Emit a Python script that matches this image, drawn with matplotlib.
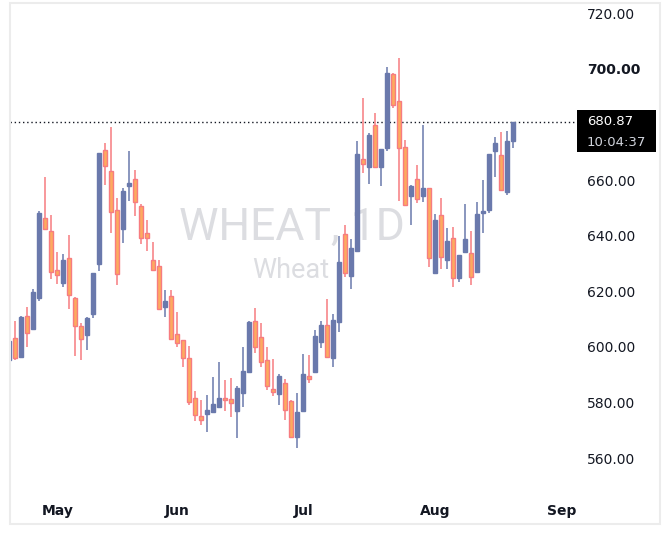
import matplotlib.pyplot as plt
from matplotlib.patches import Rectangle
import matplotlib.transforms as mtransforms

# daily candles, WHEAT 1D
opens = [595.3, 603.1, 596.5, 611.1, 606.6, 617.7, 646.2, 641.6, 627.5, 623.0,
         631.8, 617.4, 607.4, 604.4, 611.9, 629.9, 670.8, 663.3, 649.3, 642.4,
         657.8, 660.4, 650.8, 641.1, 631.4, 629.0, 614.4, 618.2, 604.6, 602.4,
         596.0, 581.6, 575.2, 575.7, 576.5, 578.2, 581.6, 581.2, 576.8, 583.3,
         591.1, 609.3, 603.5, 595.2, 584.8, 582.9, 587.0, 580.6, 567.5, 577.1,
         589.6, 590.8, 601.9, 607.9, 595.9, 608.8, 640.5, 625.6, 634.5, 667.6,
         664.6, 679.9, 664.6, 671.4, 698.1, 688.4, 671.9, 654.2, 660.4, 654.2,
         657.3, 626.6, 647.3, 631.3, 639.0, 624.6, 634.2, 633.6, 627.0, 648.2,
         649.1, 670.4, 669.0, 655.7, 674.0]
highs = [602.5, 609.3, 611.1, 614.4, 620.8, 648.8, 661.0, 647.3, 634.1, 633.3,
         640.1, 618.0, 608.6, 610.8, 626.5, 669.6, 673.5, 679.0, 653.6, 657.0,
         670.6, 663.6, 651.5, 645.5, 637.6, 631.2, 620.4, 620.4, 612.5, 602.4,
         600.4, 584.0, 581.0, 582.7, 589.1, 594.6, 588.2, 588.9, 586.0, 600.1,
         609.3, 614.0, 608.7, 600.0, 595.7, 590.3, 588.5, 581.0, 583.4, 597.5,
         597.1, 606.1, 609.4, 617.1, 611.8, 640.0, 643.8, 638.7, 674.2, 689.5,
         676.8, 684.0, 671.0, 700.8, 698.5, 704.0, 674.4, 658.1, 665.5, 679.9,
         657.3, 647.7, 653.4, 642.8, 643.1, 633.0, 651.5, 641.6, 652.1, 660.2,
         669.5, 675.4, 677.2, 677.8, 680.87]
lows = [595.0, 595.3, 596.4, 600.1, 606.6, 616.6, 641.9, 624.5, 622.7, 621.6,
        613.7, 596.8, 595.1, 598.9, 610.5, 627.3, 658.1, 641.0, 622.3, 637.4,
        652.3, 647.0, 636.9, 634.5, 627.5, 613.3, 610.9, 602.3, 600.1, 592.9,
        579.2, 573.2, 572.0, 569.3, 576.5, 578.2, 576.8, 574.7, 567.1, 578.2,
        590.6, 597.7, 592.9, 584.6, 582.2, 579.0, 573.6, 567.4, 563.5, 576.8,
        587.0, 590.8, 599.7, 596.3, 592.9, 605.4, 625.2, 620.7, 634.5, 662.5,
        658.7, 664.6, 657.8, 670.3, 686.1, 652.4, 651.1, 644.0, 651.7, 652.1,
        628.6, 626.4, 628.0, 628.0, 621.4, 623.4, 634.2, 622.2, 626.6, 641.0,
        648.1, 661.0, 656.3, 654.8, 671.4]
closes = [602.2, 596.0, 610.8, 604.9, 619.7, 648.0, 642.4, 627.1, 626.0, 631.2,
          618.5, 607.4, 602.8, 610.4, 626.5, 669.6, 665.1, 648.6, 626.3, 655.9,
          659.1, 652.2, 639.0, 639.0, 627.5, 613.7, 616.5, 602.8, 601.3, 596.0,
          580.0, 575.5, 573.7, 577.3, 579.5, 581.6, 580.8, 579.8, 585.2, 591.4,
          608.9, 600.1, 594.7, 585.8, 583.8, 589.6, 577.3, 567.4, 576.6, 590.3,
          588.4, 603.9, 607.9, 596.3, 609.7, 630.4, 626.4, 635.5, 669.5, 665.8,
          676.3, 664.6, 671.0, 698.6, 687.0, 671.6, 651.1, 657.7, 653.2, 657.1,
          631.8, 645.5, 632.2, 638.0, 624.6, 633.0, 638.7, 625.2, 647.9, 648.6,
          669.5, 673.5, 656.3, 674.2, 680.87]

month_labels = ["May", "Jun", "Jul", "Aug", "Sep"]
month_bars = [8, 28, 49, 71, 92]
# 680 is hidden behind the last-price label
price_ticks = [560, 580, 600, 620, 640, 660, 700, 720]
countdown = "10:04:37"

UP = "#6a79ac"
DOWN_FILL = "#fdaa5f"
DOWN_EDGE = "#f77c80"
TEXT = "#131722"


def myplot():
    fig = plt.figure(figsize=(6.7, 5.36), dpi=100)
    ax = fig.add_axes([10 / 670, 46 / 536, 568 / 670, 487 / 536])

    # watermark
    ax.text(0.497, 0.513, "WHEAT, 1D", transform=ax.transAxes, ha="center",
            va="baseline", fontsize=32, family="Roboto", color="#dcdde1", zorder=0)
    ax.text(0.495, 0.435, "Wheat", transform=ax.transAxes, ha="center",
            va="baseline", fontsize=19.5, family="Roboto", color="#dcdde1", zorder=0)

    for i in range(len(opens)):
        o, h, l, c = opens[i], highs[i], lows[i], closes[i]
        if c >= o:
            fill, edge = UP, UP
        else:
            fill, edge = DOWN_FILL, DOWN_EDGE
        ax.vlines(i, l, h, color=edge, lw=1.1, zorder=2)
        body = max(abs(c - o), 0.5)
        ax.bar(i, body, bottom=min(o, c), width=0.72, color=fill,
               edgecolor=edge, linewidth=1.0, zorder=3)

    last = closes[-1]
    ax.axhline(last, color=TEXT, ls=(0, (1, 2)), lw=1, zorder=1)

    ax.set_xlim(0.12, 94.78)
    ax.set_ylim(548.5, 723.7)

    ax.set_xticks(month_bars)
    ax.set_xticklabels(month_labels, fontsize=10, fontweight="bold", color=TEXT)
    ax.yaxis.tick_right()
    ax.set_yticks(price_ticks)
    ax.set_yticklabels(["%.2f" % p for p in price_ticks], fontsize=10, color=TEXT)
    for lab, p in zip(ax.get_yticklabels(), price_ticks):
        if p == 700:
            lab.set_fontweight("bold")
    ax.tick_params(axis="x", length=0, pad=10)
    ax.tick_params(axis="y", length=0, pad=6.5)
    for s in ax.spines.values():
        s.set_visible(False)

    # last price label on the scale
    trans = mtransforms.blended_transform_factory(ax.transAxes, ax.transData)
    ax.add_patch(Rectangle((0.998, last - 10.8), 0.139, 15.1, transform=trans,
                           facecolor="black", edgecolor="none", clip_on=False, zorder=5))
    ax.text(1.0158, last + 0.3, "%.2f" % last, transform=trans, color="white",
            fontsize=9.5, va="center", ha="left", zorder=6)
    ax.text(1.0158, last - 7.2, countdown, transform=trans, color="#d1d4dc",
            fontsize=9.5, va="center", ha="left", zorder=6)

    # outer frame
    fig.patches.append(Rectangle((10 / 670, 12 / 536), 650 / 670, 521 / 536,
                                 transform=fig.transFigure, fill=False,
                                 edgecolor="#ececec", lw=1.5))

    plt.savefig("out.png", dpi=100)


if __name__ == "__main__":
    myplot()
